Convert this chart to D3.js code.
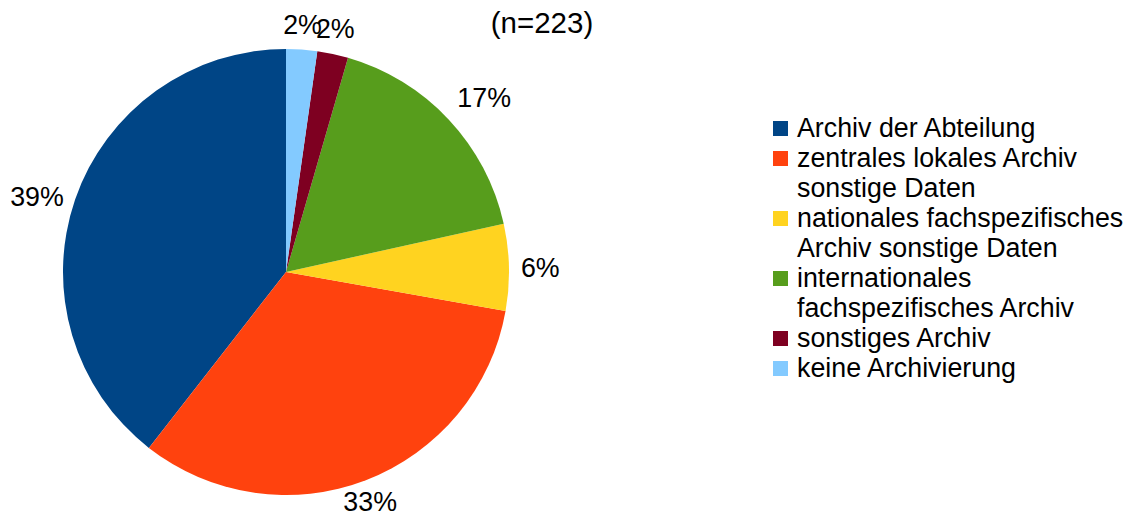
<!DOCTYPE html>
<html>
<head>
<meta charset="utf-8">
<script src="https://cdn.jsdelivr.net/npm/d3@7"></script>
<style>
  body { margin: 0; background: #fff; }
  text { font-family: "Liberation Sans", Arial, sans-serif; fill: #000; }
</style>
</head>
<body>
<script>
const width = 1137, height = 520;

// counts per category (n=223)
const categories = ["Archiv der Abteilung", "zentrales lokales Archiv sonstige Daten",
  "nationales fachspezifisches Archiv sonstige Daten", "internationales fachspezifisches Archiv",
  "sonstiges Archiv", "keine Archivierung"];
const counts = [88, 73, 14, 38, 5, 5];
const legendLines = [["Archiv der Abteilung"], ["zentrales lokales Archiv", "sonstige Daten"],
  ["nationales fachspezifisches", "Archiv sonstige Daten"], ["internationales", "fachspezifisches Archiv"],
  ["sonstiges Archiv"], ["keine Archivierung"]];
const colors = ["#004586", "#ff420e", "#ffd320", "#579d1c", "#7e0021", "#83caff"];
const title = "(n=223)";

const cx = 286, cy = 272, r = 223;
const fontSize = 26.8;

const svg = d3.select("body").append("svg")
  .attr("width", width)
  .attr("height", height);

const total = d3.sum(counts);

// slices go counterclockwise from 12 o'clock
const pie = d3.pie().sort(null).startAngle(0).endAngle(-2 * Math.PI);
const arc = d3.arc().innerRadius(0).outerRadius(r);

const arcs = pie(counts);

const g = svg.append("g").attr("transform", `translate(${cx},${cy})`);

g.selectAll("path")
  .data(arcs)
  .enter()
    .append("path")
    .attr("d", arc)
    .attr("fill", (d, i) => colors[i]);

// percentage labels outside the pie
const gap = 12;
const th = Math.sin(Math.PI / 8);
g.selectAll("text.lbl")
  .data(arcs)
  .enter()
    .append("text")
    .attr("class", "lbl")
    .style("font-size", fontSize + "px")
    .each(function(d) {
      let a = (d.startAngle + d.endAngle) / 2;
      a = ((a % (2 * Math.PI)) + 2 * Math.PI) % (2 * Math.PI);
      const dx = Math.sin(a), dy = -Math.cos(a);
      const px = dx * (r + gap), py = dy * (r + gap);
      let anchor = "middle";
      if (Math.abs(dx) >= th) anchor = dx > 0 ? "start" : "end";
      let by;
      if (Math.abs(dy) < th) by = py + 10;
      else if (dy < 0) by = py - 4;
      else by = py + 20;
      d3.select(this)
        .attr("x", px)
        .attr("y", by)
        .attr("text-anchor", anchor)
        .text(Math.round(d.value / total * 100) + "%");
    });

svg.append("text")
  .attr("x", 542)
  .attr("y", 33)
  .attr("text-anchor", "middle")
  .style("font-size", "29.5px")
  .text(title);

// legend
const legend = svg.append("g");
let line = 0;
const lineH = 30, baseY = 137;
categories.forEach(function(c, i) {
  const y = baseY + line * lineH;
  legend.append("rect")
    .attr("x", 773)
    .attr("y", y - 16)
    .attr("width", 15)
    .attr("height", 15)
    .attr("fill", colors[i]);
  legendLines[i].forEach(function(t, j) {
    legend.append("text")
      .attr("x", 797)
      .attr("y", y + j * lineH)
      .style("font-size", fontSize + "px")
      .text(t);
  });
  line += legendLines[i].length;
});
</script>
</body>
</html>
